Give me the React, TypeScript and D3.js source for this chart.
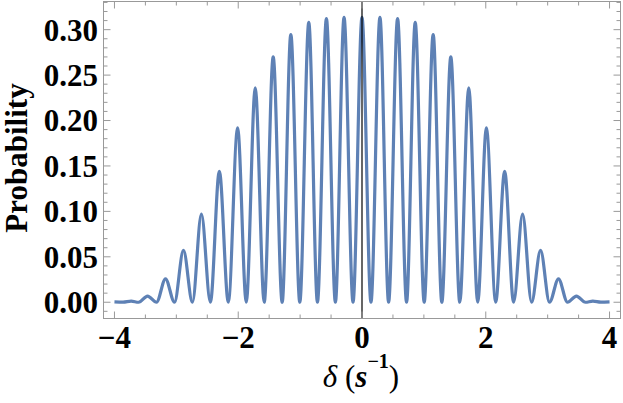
import React from 'react';
import * as d3 from 'd3';

// curve: local maxima / minima of the probability
const deltaPoints = [
  -4.0, -3.86, -3.73, -3.61, -3.465, -3.32, -3.175, -3.03, -2.885, -2.74, -2.595, -2.45, -2.305,
  -2.16, -2.01, -1.87, -1.725, -1.58, -1.435, -1.29, -1.15, -1.005, -0.86, -0.72, -0.575, -0.43,
  -0.29, -0.145, 0, 0.145, 0.29, 0.43, 0.575, 0.72, 0.86, 1.005, 1.15, 1.29, 1.435, 1.58, 1.725,
  1.87, 2.01, 2.16, 2.305, 2.45, 2.595, 2.74, 2.885, 3.03, 3.175, 3.32, 3.465, 3.61, 3.73, 3.86, 4.0,
];
const probPoints = [
  0.0004, 0.0001, 0.0012, 0, 0.0068, 0, 0.0258, 0, 0.057, 0, 0.097, 0, 0.144,
  0, 0.192, 0, 0.236, 0, 0.27, 0, 0.2947, 0, 0.308, 0, 0.3123, 0,
  0.3135, 0, 0.3135, 0, 0.3135, 0, 0.3123, 0, 0.308, 0, 0.2947, 0, 0.27, 0, 0.236,
  0, 0.192, 0, 0.144, 0, 0.097, 0, 0.057, 0, 0.0258, 0, 0.0068, 0, 0.0012, 0.0001, 0.0004,
];

const xMajorTicks = [-4, -2, 0, 2, 4];
const xMinorTicks = [-3.5, -3, -2.5, -1.5, -1, -0.5, 0.5, 1, 1.5, 2.5, 3, 3.5];
const yMajorTicks = [0, 0.05, 0.1, 0.15, 0.2, 0.25, 0.3];
const yMinorTicks = [
  -0.01, 0.01, 0.02, 0.03, 0.04, 0.06, 0.07, 0.08, 0.09, 0.11, 0.12, 0.13, 0.14, 0.16, 0.17,
  0.18, 0.19, 0.21, 0.22, 0.23, 0.24, 0.26, 0.27, 0.28, 0.29, 0.31, 0.32, 0.33,
];

const W = 623;
const H = 403;
const left = 103.5;
const right = 620.5;
const top = 1.5;
const bottom = 318.5;

const frameColor = '#999999';
const lineColor = '#5e81b5';
const font = '"Liberation Serif", "Times New Roman", serif';

const App = () => {
  const x = d3.scaleLinear().domain([-4.177, 4.177]).range([left, right]);
  const y = d3.scaleLinear().domain([-0.0179, 0.331]).range([bottom, top]);

  const pts = deltaPoints.map((d, i) => [d, probPoints[i]] as [number, number]);
  const line = d3
    .line<[number, number]>()
    .x(d => x(d[0]))
    .y(d => y(d[1]))
    .curve(d3.curveMonotoneX);

  const fmtX = (v: number) => (v < 0 ? '\u2212' + Math.abs(v) : String(v));

  return (
    <svg width={W} height={H} style={{ position: 'absolute', left: 0, top: 0, background: '#fff' }}>
      {/* curve */}
      <path d={line(pts) || ''} fill="none" stroke={lineColor} strokeWidth={3.2} strokeLinejoin="round" />

      {/* vertical axis at delta = 0 */}
      <line x1={x(0)} x2={x(0)} y1={top} y2={bottom} stroke="#000" strokeWidth={1.2} />

      {/* frame */}
      <rect x={left} y={top} width={right - left} height={bottom - top} fill="none" stroke={frameColor} strokeWidth={1} />

      {/* x ticks, bottom and top */}
      {xMajorTicks.map(t => (
        <g key={'xM' + t}>
          <line x1={x(t)} x2={x(t)} y1={bottom} y2={bottom - 7} stroke={frameColor} />
          <line x1={x(t)} x2={x(t)} y1={top} y2={top + 7} stroke={frameColor} />
        </g>
      ))}
      {xMinorTicks.map(t => (
        <g key={'xm' + t}>
          <line x1={x(t)} x2={x(t)} y1={bottom} y2={bottom - 4} stroke={frameColor} />
          <line x1={x(t)} x2={x(t)} y1={top} y2={top + 4} stroke={frameColor} />
        </g>
      ))}

      {/* y ticks, left and right */}
      {yMajorTicks.map(t => (
        <g key={'yM' + t}>
          <line x1={left} x2={left + 7} y1={y(t)} y2={y(t)} stroke={frameColor} />
          <line x1={right} x2={right - 7} y1={y(t)} y2={y(t)} stroke={frameColor} />
        </g>
      ))}
      {yMinorTicks.map(t => (
        <g key={'ym' + t}>
          <line x1={left} x2={left + 4} y1={y(t)} y2={y(t)} stroke={frameColor} />
          <line x1={right} x2={right - 4} y1={y(t)} y2={y(t)} stroke={frameColor} />
        </g>
      ))}

      {/* tick labels */}
      <g fontFamily={font} fontWeight="bold" fontSize={31} fill="#000">
        {xMajorTicks.map(t => (
          <text key={'xl' + t} x={x(t)} y={348} textAnchor="middle">
            {fmtX(t)}
          </text>
        ))}
        {yMajorTicks.map(t => (
          <text key={'yl' + t} x={98} y={y(t)} dy="0.35em" textAnchor="end">
            {t.toFixed(2)}
          </text>
        ))}
      </g>

      {/* axis labels */}
      <text
        transform={`translate(27, 158) rotate(-90)`}
        textAnchor="middle"
        fontFamily={font}
        fontWeight="bold"
        fontSize={31}
      >
        Probability
      </text>
      <text x={361} y={387} textAnchor="middle" fontFamily={font} fontSize={31}>
        <tspan fontStyle="italic">δ</tspan>
        <tspan> (</tspan>
        <tspan fontStyle="italic" fontWeight="bold">s</tspan>
        <tspan fontWeight="bold" fontSize={20} dy={-19}>−1</tspan>
        <tspan dy={19}>)</tspan>
      </text>
    </svg>
  );
};

export default App;
